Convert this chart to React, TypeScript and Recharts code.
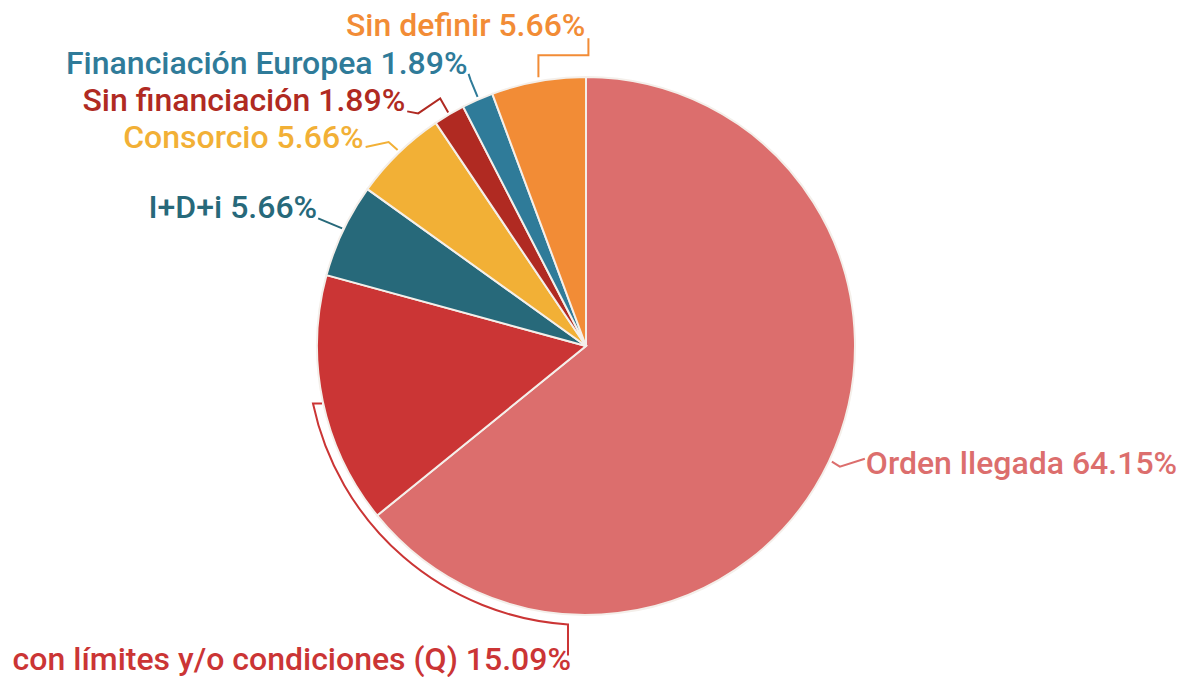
import { PieChart, Pie, Cell } from 'recharts';

// categorías y conteos (porcentaje = conteo / total)
const categories = [
  'Orden llegada',
  'con límites y/o condiciones (Q)',
  'I+D+i',
  'Consorcio',
  'Sin financiación',
  'Financiación Europea',
  'Sin definir',
];
const counts = [34, 8, 3, 3, 1, 1, 3];
const colors = ['#dc6e6d', '#cb3535', '#27697a', '#f2b036', '#b02a22', '#2f7b99', '#f28c36'];

const data = categories.map((name, i) => ({ name, value: counts[i] }));

const RADIAN = Math.PI / 180;
const OUTER = 269;

// recorrido de la línea de cada etiqueta, relativo al punto del borde del sector
const LABEL_LINES: { pts: [number, number][]; text: [number, number]; anchor: 'start' | 'end' }[] = [
  { pts: [[3, 0], [11, 5], [36, -3]], text: [37, 1], anchor: 'start' },
  { pts: [], text: [0, 0], anchor: 'end' }, // arco, ver abajo
  { pts: [[-1, -2], [-25, -12]], text: [-26, -23], anchor: 'end' },
  { pts: [[-1, -3], [-10, -11], [-33, -6]], text: [-35, -16], anchor: 'end' },
  { pts: [[-1, -2], [-9, -16], [-31, -1], [-42, -3]], text: [-44, -14], anchor: 'end' },
  { pts: [[0, -3], [-7, -20], [-9, -26]], text: [-10, -37], anchor: 'end' },
  { pts: [[0, -4], [0, -26], [50, -26], [50, -43]], text: [47, -56], anchor: 'end' },
];

const renderLabel = (props: any) => {
  const { cx, cy, midAngle, percent, index, name } = props;
  const color = colors[index];
  const txt = `${name} ${(percent * 100).toFixed(2)}%`;
  const textStyle = { fontFamily: 'Roboto', fontSize: 32, fontWeight: 500 };

  if (index === 1) {
    // corchete en arco que sigue el borde del sector
    const R = OUTER + 10;
    const a0 = -midAngle * RADIAN;
    const a1 = 93.7 * RADIAN;
    const sx = cx + R * Math.cos(a0);
    const sy = cy + R * Math.sin(a0);
    const ex = cx + R * Math.cos(a1);
    const ey = cy + R * Math.sin(a1);
    const d = `M${sx + 9},${sy} L${sx},${sy} A${R},${R} 0 0 0 ${ex},${ey} L${ex},${ey + 31}`;
    return (
      <g>
        <path d={d} stroke={color} strokeWidth={2} fill="none" />
        <text x={ex + 3} y={ey + 35} fill={color} textAnchor="end" dominantBaseline="central" style={textStyle}>
          {txt}
        </text>
      </g>
    );
  }

  const ex = cx + OUTER * Math.cos(-midAngle * RADIAN);
  const ey = cy + OUTER * Math.sin(-midAngle * RADIAN);
  const cfg = LABEL_LINES[index];
  const d = cfg.pts.map((p, i) => `${i === 0 ? 'M' : 'L'}${ex + p[0]},${ey + p[1]}`).join(' ');
  return (
    <g>
      <path d={d} stroke={color} strokeWidth={2} fill="none" />
      <text
        x={ex + cfg.text[0]}
        y={ey + cfg.text[1]}
        fill={color}
        textAnchor={cfg.anchor}
        dominantBaseline="central"
        style={textStyle}
      >
        {txt}
      </text>
    </g>
  );
};

export default function App() {
  return (
    <div style={{ position: 'absolute', left: 0, top: 0, background: '#fff' }}>
      <PieChart width={1181} height={677} margin={{ top: 0, right: 0, bottom: 0, left: 0 }}>
        <Pie
          data={data}
          dataKey="value"
          nameKey="name"
          cx={586}
          cy={346}
          outerRadius={OUTER}
          startAngle={90}
          endAngle={-270}
          stroke="#f4efea"
          strokeWidth={2}
          label={renderLabel}
          labelLine={false}
          isAnimationActive={false}
        >
          {data.map((d, i) => (
            <Cell key={d.name} fill={colors[i]} />
          ))}
        </Pie>
      </PieChart>
    </div>
  );
}
